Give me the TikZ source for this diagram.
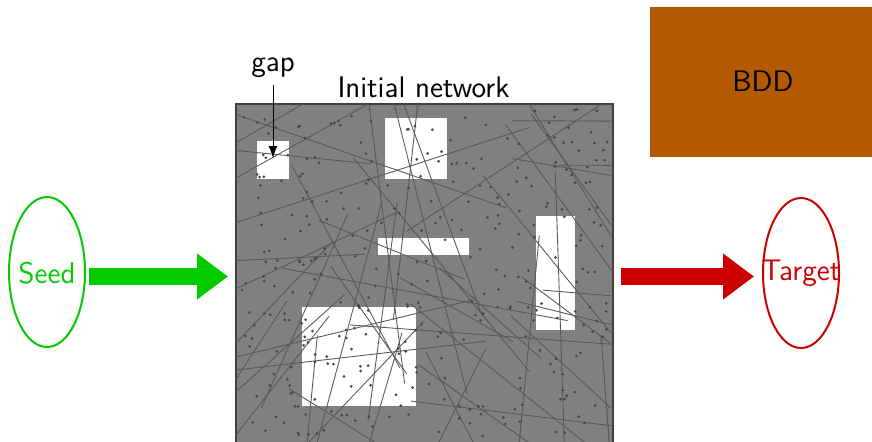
\documentclass[tikz,border=0pt]{standalone}
\usepackage{fontspec}
\usetikzlibrary{shapes.geometric,arrows.meta}
\definecolor{seedgreen}{RGB}{0,204,0}
\definecolor{targetred}{RGB}{204,0,0}
\definecolor{bddbrown}{RGB}{179,89,0}
\definecolor{netgray}{RGB}{128,128,128}
\definecolor{linegray}{RGB}{88,88,88}
\definecolor{dotgray}{RGB}{70,70,70}
\begin{document}
\begin{tikzpicture}[x=0.4pt,y=-0.4pt,
  every node/.style={font=\sffamily\fontsize{11.9}{14}\selectfont},
  endpoint/.style={ellipse, draw, line width=0.8pt, minimum width=30.4pt, minimum height=60pt, inner sep=0pt},
  bigarrow/.style={line width=6.8pt, -{Triangle[length=12.4pt,width=17.6pt]}},
  gapbox/.style={fill=white},
  netline/.style={draw=linegray, line width=0.35pt},
  netdot/.style={fill=dotgray},
]
\clip (0,0) rectangle (872,441);
\useasboundingbox (0,0) rectangle (872,441);

% BDD box
\node (bdd) [fill=bddbrown, anchor=north west, minimum width=89.2pt, minimum height=60pt, inner sep=0pt] at (649,6) {};
\node (bddlabel) [anchor=base, inner sep=0pt] at (763,91) {BDD};

% network
\node (net) [fill=netgray, draw=black!75, line width=0.6pt, anchor=north west, minimum width=150.8pt, minimum height=150.8pt, inner sep=0pt] at (235,103) {};
\node (netlabel) [anchor=base, inner sep=0pt] at (423.5,97) {Initial network};

% gaps
\fill[gapbox] (257,141) rectangle (289,179);
\fill[gapbox] (385,118) rectangle (447,179);
\fill[gapbox] (378,238) rectangle (469,255);
\fill[gapbox] (536,216) rectangle (575,330);
\fill[gapbox] (302,307) rectangle (416,406);

% random lines and dots inside the network
\begin{scope}
\clip (236,104) rectangle (611,480);
\pgfmathsetseed{4242}
\foreach \i in {1,...,52}{
  \pgfmathsetmacro\xa{240+370*rnd}
  \pgfmathsetmacro\ya{108+330*rnd}
  \pgfmathsetmacro\ang{180*rnd}
  \pgfmathsetmacro\len{100+200*rnd}
  \pgfmathsetmacro\xb{\xa+\len*cos(\ang)}
  \pgfmathsetmacro\yb{\ya+\len*sin(\ang)}
  \pgfmathsetmacro\xc{\xa-0.3*\len*cos(\ang)}
  \pgfmathsetmacro\yc{\ya-0.3*\len*sin(\ang)}
  \draw[netline] (\xc,\yc) -- (\xb,\yb);
}
\foreach \i in {1,...,330}{
  \pgfmathsetmacro\xa{240+368*rnd}
  \pgfmathsetmacro\ya{108+330*rnd}
  \fill[netdot] (\xa,\ya) circle (1.5);
}
\end{scope}

% gap label
\node (gap) [anchor=base, inner sep=0pt] at (273,71.5) {gap};
\coordinate (gaptip) at (273,158);
\draw[-Latex, line width=0.4pt] (273,85) -- (gaptip);

% seed
\node (seed) [endpoint, draw=seedgreen] at (47,272) {};
\node (seedlabel) [anchor=base, text=seedgreen, inner sep=0pt] at (47,283) {Seed};
\draw[bigarrow, seedgreen, shorten <=1.2pt, shorten >=2.8pt] (seed.east |- 0,276.5) -- (net.west |- 0,276.5);

% target
\node (target) [endpoint, draw=targetred] at (801,273) {};
\node (targetlabel) [anchor=base, text=targetred, inner sep=0pt] at (801,280.5) {Target};
\draw[bigarrow, targetred, shorten <=2.8pt, shorten >=3.2pt] (net.east |- 0,276.5) -- (target.west |- 0,276.5);
\end{tikzpicture}
\end{document}
